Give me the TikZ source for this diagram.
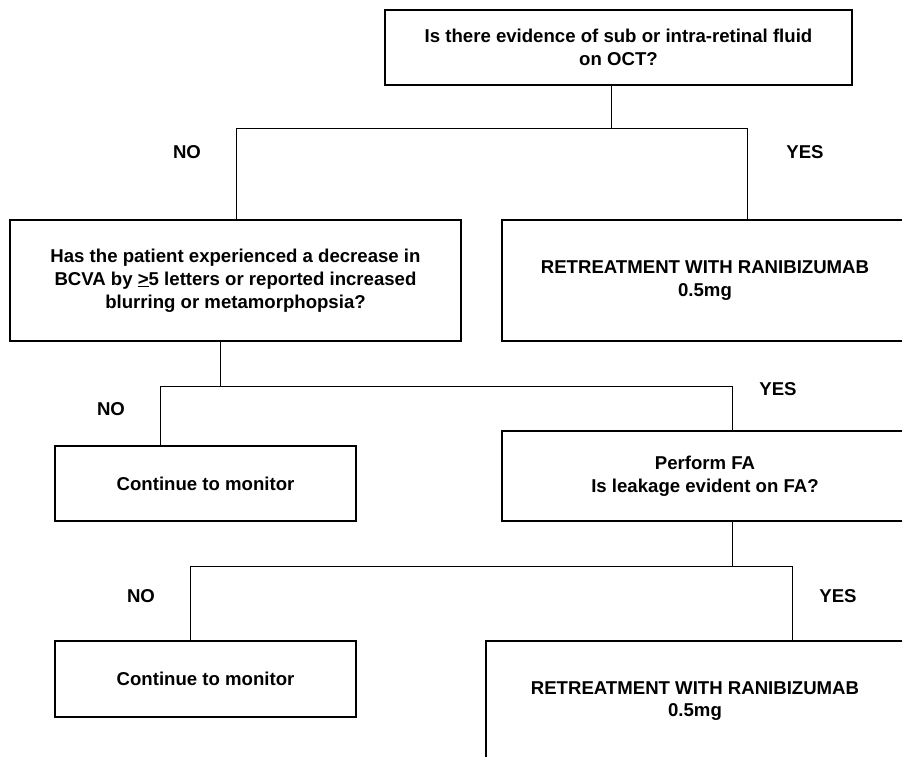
\documentclass[tikz,border=0pt]{standalone}
\usepackage{fontspec}
\setmainfont{Liberation Sans}
\usetikzlibrary{positioning}
\usetikzlibrary{calc}

\begin{document}
\begin{tikzpicture}[x=1pt,y=-1pt,line width=1pt,
  box/.style={rectangle,draw,line width=1.2pt,align=center,inner sep=0pt},
  every node/.style={font=\fontsize{18.6}{22.8}\selectfont\bfseries}]
\clip (0,0) rectangle (902,757);
% question nodes and answers
\node [box,minimum width=467pt,minimum height=75pt] (z) at (618.5,47.5)
  {Is there evidence of sub or intra-retinal fluid\\on OCT?};
\node [box,minimum width=451pt,minimum height=121pt] (a) at (235.5,280.5)
  {Has the patient experienced a decrease in\\BCVA by \underline{>}5 letters or reported increased\\blurring or metamorphopsia?};
\node [box,minimum width=406pt,minimum height=121pt] (b) at (705,280.5)
  {RETREATMENT WITH RANIBIZUMAB\\0.5mg};
\node [box,minimum width=301pt,minimum height=75pt] (aa) at (205.5,483.5)
  {Continue to monitor};
\node [box,minimum width=406pt,minimum height=90pt] (ab) at (705,476)
  {Perform FA\\Is leakage evident on FA?};
\node [box,minimum width=301pt,minimum height=76pt] (aba) at (205.5,679)
  {Continue to monitor};
\node [box,minimum width=418pt,minimum height=120pt] (abb) at (695,701)
  {RETREATMENT WITH RANIBIZUMAB\\0.5mg};
% labels
\node (no1) at (187,152) {NO};
\node (yes1) at (805,152) {YES};
\node (no2) at (111,409) {NO};
\node (yes2) at (778,389) {YES};
\node (no3) at (141,596) {NO};
\node (yes3) at (838,596) {YES};
% connectors
\coordinate (z1) at (611,129);
\coordinate (a1) at (236,129);
\coordinate (b1) at (747,129);
\draw (z.south -| z1) -- (z1);
\draw (a.north -| a1) -- (a1) -- (b1) -- (b.north -| b1);
\coordinate (a2) at (220,386);
\coordinate (aa2) at (160,386);
\coordinate (ab2) at (732,386);
\draw (a.south -| a2) -- (a2);
\draw (aa.north -| aa2) -- (aa2) -- (ab2) -- (ab.north -| ab2);
\coordinate (ab3) at (732,566);
\coordinate (aba3) at (190,566);
\coordinate (abb3) at (792,566);
\draw (ab.south -| ab3) -- (ab3);
\draw (aba.north -| aba3) -- (aba3) -- (abb3) -- (abb.north -| abb3);
\end{tikzpicture}
\end{document}
